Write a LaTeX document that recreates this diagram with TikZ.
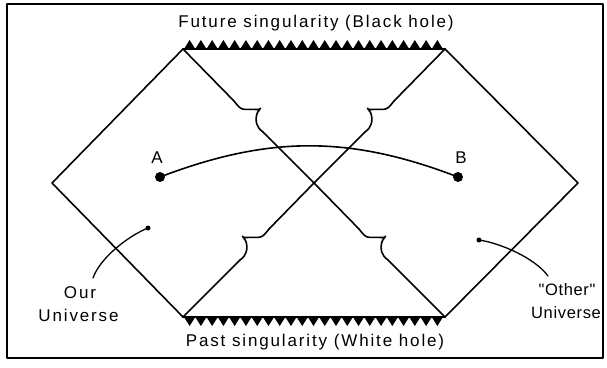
\documentclass[tikz,border=0pt]{standalone}
\usepackage{fontspec}
\newfontfamily\lblfont[LetterSpace=11]{Liberation Sans}
\newfontfamily\lblfontn[LetterSpace=4]{Liberation Sans}
\tikzset{
  edge/.style={line width=1.6pt},
  leader/.style={line width=1.3pt},
  lbl/.style={font=\lblfont\fontsize{17}{20}\selectfont, inner sep=0pt, anchor=base},
  lbln/.style={font=\lblfontn\fontsize{16.5}{20}\selectfont, inner sep=0pt, anchor=base},
  bigdot/.style={circle, fill=black, inner sep=0pt, minimum size=10pt},
  smalldot/.style={circle, fill=black, inner sep=0pt, minimum size=5pt},
  kinkR/.pic={\draw[edge] (0,0) .. controls (4,5) and (6,8) .. (10,8.3) -- (25,8.5) -- (26.5,7.3) -- (23.5,11.5) .. controls (21.8,15) and (21.8,20) .. (22.8,23) .. controls (23.8,26) and (25,28) .. (29,31);}
}
\begin{document}
\begin{tikzpicture}[x=1pt,y=-1pt,line cap=round,line join=round]
\useasboundingbox[fill=white] (0,0) rectangle (607,367);
% frame
\draw[line width=1.8pt] (7,4) rectangle (603,358);
% hexagon corners
\coordinate (TL) at (183,49);
\coordinate (TR) at (445,49);
\coordinate (R) at (578,183);
\coordinate (BR) at (445,317);
\coordinate (BL) at (183,317);
\coordinate (L) at (52,183);
\coordinate (C) at (314,183);
% kinks
\coordinate (K1) at (234,101); \coordinate (K1e) at (263,132);
\coordinate (K2) at (359,229); \coordinate (K2e) at (388,260);
\coordinate (K3) at (394,101); \coordinate (K3e) at (365,132);
\coordinate (K4) at (269,229); \coordinate (K4e) at (240,260);
% outline
\draw[edge] (TL) -- (L) -- (BL);
\draw[edge] (TR) -- (R) -- (BR);
\draw[line width=2.2pt] (TL) -- (TR);
\draw[line width=2.2pt] (BL) -- (BR);
% singularity teeth
\foreach \i in {0,...,22} {
  \fill (184+\i*11.26,49) -- (189.63+\i*11.26,40) -- (195.26+\i*11.26,49) -- cycle;
  \fill (184+\i*11.26,317) -- (189.63+\i*11.26,326) -- (195.26+\i*11.26,317) -- cycle;
}
% diagonal TL -> BR
\draw[edge] (TL) -- (K1);
\pic at (K1) {kinkR};
\draw[edge] (K1e) -- (C) -- (K2);
\pic at (K2) {kinkR};
\draw[edge] (K2e) -- (BR);
% diagonal TR -> BL
\draw[edge] (TR) -- (K3);
\pic[xscale=-1] at (K3) {kinkR};
\draw[edge] (K3e) -- (C) -- (K4);
\pic[xscale=-1] at (K4) {kinkR};
\draw[edge] (K4e) -- (BL);
% points A and B
\node[bigdot] (A) at (160,177) {};
\node[bigdot] (B) at (458,177) {};
\draw[edge] (A.center) .. controls (269,135.4) and (350,135.4) .. (B.center);
% leaders
\node[smalldot] (ou) at (148,228) {};
\node[smalldot] (uu) at (479,240) {};
\coordinate (ouend) at (93,278);
\coordinate (uuend) at (548,276);
\draw[leader] (ou.center) .. controls (128,236) and (100,258) .. (ouend);
\draw[leader] (uu.center) .. controls (500,243) and (535,258) .. (uuend);
% labels
\node[lbl] (fut) at (316,27) {Future singularity (Black hole)};
\node[lbl] (past) at (315,346.5) {Past singularity (White hole)};
\node[lbl] (la) at (157,163.3) {A};
\node[lbl] (lb) at (461,163.5) {B};
\node[lbl] (our1) at (80,298.3) {Our};
\node[lbl] (our2) at (78.5,321) {Universe};
\node[lbln] (oth1) at (567,295) {"Other"};
\node[lbln] (oth2) at (566,318.3) {Universe};
\end{tikzpicture}
\end{document}
